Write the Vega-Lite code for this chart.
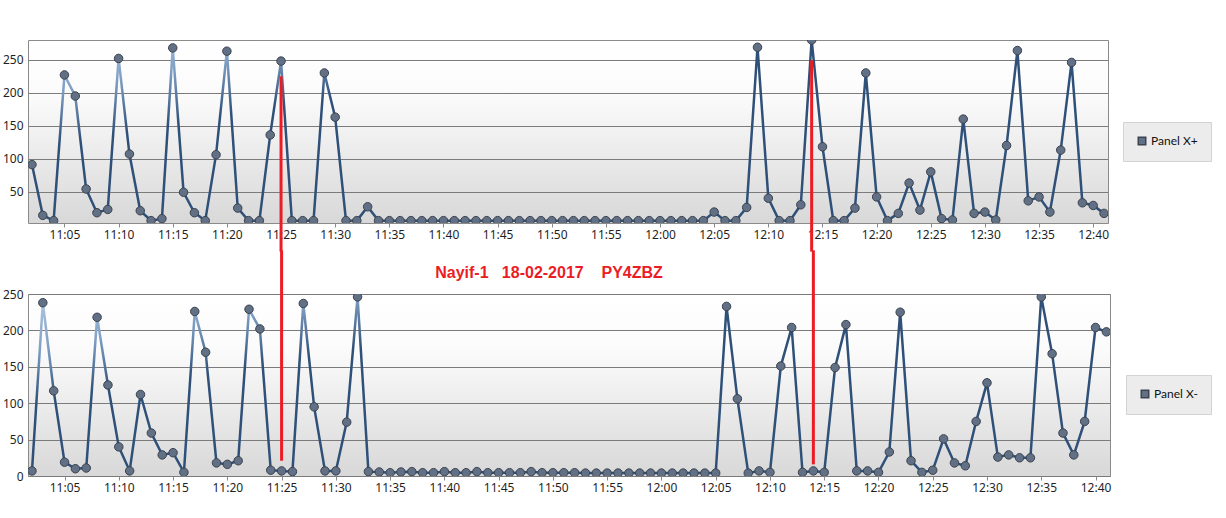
{
  "$schema": "https://vega.github.io/schema/vega-lite/v6.json",
  "background": "white",
  "padding": {"left": 1, "top": 39, "right": 0, "bottom": 0},
  "spacing": -6,
  "resolve": {"scale": {"color": "independent"}, "legend": {"color": "independent"}},
  "config": {
    "font": "Noto Sans",
    "view": {"stroke": "#8a8a8a", "strokeWidth": 1},
    "axis": {"labelFont": "Noto Sans", "labelFontSize": 12, "labelColor": "#1f1f1f", "domain": false, "gridColor": "#7b7b7b", "gridWidth": 1.2, "gridOpacity": 1},
    "axisX": {"grid": false, "ticks": true, "tickSize": 4, "tickColor": "#8a8a8a", "labelPadding": 2},
    "axisY": {"ticks": false, "labelPadding": 5, "grid": true}
  },
  "datasets": {
    "top": [
      {"t":"2017-02-18T11:02","v":91,"s":"Panel X+"},{"t":"2017-02-18T11:03","v":14,"s":"Panel X+"},{"t":"2017-02-18T11:04","v":6,"s":"Panel X+"},{"t":"2017-02-18T11:05","v":227,"s":"Panel X+"},{"t":"2017-02-18T11:06","v":195,"s":"Panel X+"},{"t":"2017-02-18T11:07","v":54,"s":"Panel X+"},{"t":"2017-02-18T11:08","v":18,"s":"Panel X+"},{"t":"2017-02-18T11:09","v":23,"s":"Panel X+"},{"t":"2017-02-18T11:10","v":252,"s":"Panel X+"},{"t":"2017-02-18T11:11","v":107,"s":"Panel X+"},
      {"t":"2017-02-18T11:12","v":21,"s":"Panel X+"},{"t":"2017-02-18T11:13","v":6,"s":"Panel X+"},{"t":"2017-02-18T11:14","v":9,"s":"Panel X+"},{"t":"2017-02-18T11:15","v":268,"s":"Panel X+"},{"t":"2017-02-18T11:16","v":49,"s":"Panel X+"},{"t":"2017-02-18T11:17","v":18,"s":"Panel X+"},{"t":"2017-02-18T11:18","v":6,"s":"Panel X+"},{"t":"2017-02-18T11:19","v":106,"s":"Panel X+"},{"t":"2017-02-18T11:20","v":263,"s":"Panel X+"},{"t":"2017-02-18T11:21","v":25,"s":"Panel X+"},
      {"t":"2017-02-18T11:22","v":6,"s":"Panel X+"},{"t":"2017-02-18T11:23","v":6,"s":"Panel X+"},{"t":"2017-02-18T11:24","v":136,"s":"Panel X+"},{"t":"2017-02-18T11:25","v":248,"s":"Panel X+"},{"t":"2017-02-18T11:26","v":6,"s":"Panel X+"},{"t":"2017-02-18T11:27","v":6,"s":"Panel X+"},{"t":"2017-02-18T11:28","v":6,"s":"Panel X+"},{"t":"2017-02-18T11:29","v":230,"s":"Panel X+"},{"t":"2017-02-18T11:30","v":163,"s":"Panel X+"},{"t":"2017-02-18T11:31","v":6,"s":"Panel X+"},
      {"t":"2017-02-18T11:32","v":6,"s":"Panel X+"},{"t":"2017-02-18T11:33","v":27,"s":"Panel X+"},{"t":"2017-02-18T11:34","v":6,"s":"Panel X+"},{"t":"2017-02-18T11:35","v":6,"s":"Panel X+"},{"t":"2017-02-18T11:36","v":6,"s":"Panel X+"},{"t":"2017-02-18T11:37","v":6,"s":"Panel X+"},{"t":"2017-02-18T11:38","v":6,"s":"Panel X+"},{"t":"2017-02-18T11:39","v":6,"s":"Panel X+"},{"t":"2017-02-18T11:40","v":6,"s":"Panel X+"},{"t":"2017-02-18T11:41","v":6,"s":"Panel X+"},
      {"t":"2017-02-18T11:42","v":6,"s":"Panel X+"},{"t":"2017-02-18T11:43","v":6,"s":"Panel X+"},{"t":"2017-02-18T11:44","v":6,"s":"Panel X+"},{"t":"2017-02-18T11:45","v":6,"s":"Panel X+"},{"t":"2017-02-18T11:46","v":6,"s":"Panel X+"},{"t":"2017-02-18T11:47","v":6,"s":"Panel X+"},{"t":"2017-02-18T11:48","v":6,"s":"Panel X+"},{"t":"2017-02-18T11:49","v":6,"s":"Panel X+"},{"t":"2017-02-18T11:50","v":6,"s":"Panel X+"},{"t":"2017-02-18T11:51","v":6,"s":"Panel X+"},
      {"t":"2017-02-18T11:52","v":6,"s":"Panel X+"},{"t":"2017-02-18T11:53","v":6,"s":"Panel X+"},{"t":"2017-02-18T11:54","v":6,"s":"Panel X+"},{"t":"2017-02-18T11:55","v":6,"s":"Panel X+"},{"t":"2017-02-18T11:56","v":6,"s":"Panel X+"},{"t":"2017-02-18T11:57","v":6,"s":"Panel X+"},{"t":"2017-02-18T11:58","v":6,"s":"Panel X+"},{"t":"2017-02-18T11:59","v":6,"s":"Panel X+"},{"t":"2017-02-18T12:00","v":6,"s":"Panel X+"},{"t":"2017-02-18T12:01","v":6,"s":"Panel X+"},
      {"t":"2017-02-18T12:02","v":6,"s":"Panel X+"},{"t":"2017-02-18T12:03","v":6,"s":"Panel X+"},{"t":"2017-02-18T12:04","v":6,"s":"Panel X+"},{"t":"2017-02-18T12:05","v":19,"s":"Panel X+"},{"t":"2017-02-18T12:06","v":6,"s":"Panel X+"},{"t":"2017-02-18T12:07","v":6,"s":"Panel X+"},{"t":"2017-02-18T12:08","v":26,"s":"Panel X+"},{"t":"2017-02-18T12:09","v":269,"s":"Panel X+"},{"t":"2017-02-18T12:10","v":40,"s":"Panel X+"},{"t":"2017-02-18T12:11","v":6,"s":"Panel X+"},
      {"t":"2017-02-18T12:12","v":6,"s":"Panel X+"},{"t":"2017-02-18T12:13","v":30,"s":"Panel X+"},{"t":"2017-02-18T12:14","v":280,"s":"Panel X+"},{"t":"2017-02-18T12:15","v":118,"s":"Panel X+"},{"t":"2017-02-18T12:16","v":6,"s":"Panel X+"},{"t":"2017-02-18T12:17","v":6,"s":"Panel X+"},{"t":"2017-02-18T12:18","v":25,"s":"Panel X+"},{"t":"2017-02-18T12:19","v":230,"s":"Panel X+"},{"t":"2017-02-18T12:20","v":42,"s":"Panel X+"},{"t":"2017-02-18T12:21","v":6,"s":"Panel X+"},
      {"t":"2017-02-18T12:22","v":17,"s":"Panel X+"},{"t":"2017-02-18T12:23","v":63,"s":"Panel X+"},{"t":"2017-02-18T12:24","v":22,"s":"Panel X+"},{"t":"2017-02-18T12:25","v":80,"s":"Panel X+"},{"t":"2017-02-18T12:26","v":9,"s":"Panel X+"},{"t":"2017-02-18T12:27","v":7,"s":"Panel X+"},{"t":"2017-02-18T12:28","v":160,"s":"Panel X+"},{"t":"2017-02-18T12:29","v":17,"s":"Panel X+"},{"t":"2017-02-18T12:30","v":19,"s":"Panel X+"},{"t":"2017-02-18T12:31","v":7,"s":"Panel X+"},
      {"t":"2017-02-18T12:32","v":120,"s":"Panel X+"},{"t":"2017-02-18T12:33","v":264,"s":"Panel X+"},{"t":"2017-02-18T12:34","v":36,"s":"Panel X+"},{"t":"2017-02-18T12:35","v":42,"s":"Panel X+"},{"t":"2017-02-18T12:36","v":19,"s":"Panel X+"},{"t":"2017-02-18T12:37","v":113,"s":"Panel X+"},{"t":"2017-02-18T12:38","v":246,"s":"Panel X+"},{"t":"2017-02-18T12:39","v":33,"s":"Panel X+"},{"t":"2017-02-18T12:40","v":29,"s":"Panel X+"},{"t":"2017-02-18T12:41","v":17,"s":"Panel X+"}
    ],
    "bottom": [
      {"t":"2017-02-18T11:02","v":7,"s":"Panel X-"},{"t":"2017-02-18T11:03","v":238,"s":"Panel X-"},{"t":"2017-02-18T11:04","v":117,"s":"Panel X-"},{"t":"2017-02-18T11:05","v":19,"s":"Panel X-"},{"t":"2017-02-18T11:06","v":10,"s":"Panel X-"},{"t":"2017-02-18T11:07","v":11,"s":"Panel X-"},{"t":"2017-02-18T11:08","v":218,"s":"Panel X-"},{"t":"2017-02-18T11:09","v":125,"s":"Panel X-"},{"t":"2017-02-18T11:10","v":40,"s":"Panel X-"},{"t":"2017-02-18T11:11","v":7,"s":"Panel X-"},
      {"t":"2017-02-18T11:12","v":112,"s":"Panel X-"},{"t":"2017-02-18T11:13","v":59,"s":"Panel X-"},{"t":"2017-02-18T11:14","v":29,"s":"Panel X-"},{"t":"2017-02-18T11:15","v":32,"s":"Panel X-"},{"t":"2017-02-18T11:16","v":5,"s":"Panel X-"},{"t":"2017-02-18T11:17","v":226,"s":"Panel X-"},{"t":"2017-02-18T11:18","v":170,"s":"Panel X-"},{"t":"2017-02-18T11:19","v":18,"s":"Panel X-"},{"t":"2017-02-18T11:20","v":16,"s":"Panel X-"},{"t":"2017-02-18T11:21","v":21,"s":"Panel X-"},
      {"t":"2017-02-18T11:22","v":229,"s":"Panel X-"},{"t":"2017-02-18T11:23","v":202,"s":"Panel X-"},{"t":"2017-02-18T11:24","v":8,"s":"Panel X-"},{"t":"2017-02-18T11:25","v":7,"s":"Panel X-"},{"t":"2017-02-18T11:26","v":6,"s":"Panel X-"},{"t":"2017-02-18T11:27","v":237,"s":"Panel X-"},{"t":"2017-02-18T11:28","v":95,"s":"Panel X-"},{"t":"2017-02-18T11:29","v":7,"s":"Panel X-"},{"t":"2017-02-18T11:30","v":7,"s":"Panel X-"},{"t":"2017-02-18T11:31","v":74,"s":"Panel X-"},
      {"t":"2017-02-18T11:32","v":246,"s":"Panel X-"},{"t":"2017-02-18T11:33","v":6,"s":"Panel X-"},{"t":"2017-02-18T11:34","v":5.5,"s":"Panel X-"},{"t":"2017-02-18T11:35","v":4.5,"s":"Panel X-"},{"t":"2017-02-18T11:36","v":5.5,"s":"Panel X-"},{"t":"2017-02-18T11:37","v":6,"s":"Panel X-"},{"t":"2017-02-18T11:38","v":4.5,"s":"Panel X-"},{"t":"2017-02-18T11:39","v":4.5,"s":"Panel X-"},{"t":"2017-02-18T11:40","v":6,"s":"Panel X-"},{"t":"2017-02-18T11:41","v":4.5,"s":"Panel X-"},
      {"t":"2017-02-18T11:42","v":4.5,"s":"Panel X-"},{"t":"2017-02-18T11:43","v":6,"s":"Panel X-"},{"t":"2017-02-18T11:44","v":4.5,"s":"Panel X-"},{"t":"2017-02-18T11:45","v":4.5,"s":"Panel X-"},{"t":"2017-02-18T11:46","v":4.5,"s":"Panel X-"},{"t":"2017-02-18T11:47","v":4.5,"s":"Panel X-"},{"t":"2017-02-18T11:48","v":6,"s":"Panel X-"},{"t":"2017-02-18T11:49","v":4.5,"s":"Panel X-"},{"t":"2017-02-18T11:50","v":4.5,"s":"Panel X-"},{"t":"2017-02-18T11:51","v":4.5,"s":"Panel X-"},
      {"t":"2017-02-18T11:52","v":4.5,"s":"Panel X-"},{"t":"2017-02-18T11:53","v":4,"s":"Panel X-"},{"t":"2017-02-18T11:54","v":4,"s":"Panel X-"},{"t":"2017-02-18T11:55","v":4,"s":"Panel X-"},{"t":"2017-02-18T11:56","v":4,"s":"Panel X-"},{"t":"2017-02-18T11:57","v":4,"s":"Panel X-"},{"t":"2017-02-18T11:58","v":4,"s":"Panel X-"},{"t":"2017-02-18T11:59","v":4,"s":"Panel X-"},{"t":"2017-02-18T12:00","v":4,"s":"Panel X-"},{"t":"2017-02-18T12:01","v":4,"s":"Panel X-"},
      {"t":"2017-02-18T12:02","v":4,"s":"Panel X-"},{"t":"2017-02-18T12:03","v":4,"s":"Panel X-"},{"t":"2017-02-18T12:04","v":4,"s":"Panel X-"},{"t":"2017-02-18T12:05","v":4,"s":"Panel X-"},{"t":"2017-02-18T12:06","v":233,"s":"Panel X-"},{"t":"2017-02-18T12:07","v":106,"s":"Panel X-"},{"t":"2017-02-18T12:08","v":4,"s":"Panel X-"},{"t":"2017-02-18T12:09","v":7,"s":"Panel X-"},{"t":"2017-02-18T12:10","v":5,"s":"Panel X-"},{"t":"2017-02-18T12:11","v":151,"s":"Panel X-"},
      {"t":"2017-02-18T12:12","v":204,"s":"Panel X-"},{"t":"2017-02-18T12:13","v":5,"s":"Panel X-"},{"t":"2017-02-18T12:14","v":7,"s":"Panel X-"},{"t":"2017-02-18T12:15","v":5,"s":"Panel X-"},{"t":"2017-02-18T12:16","v":149,"s":"Panel X-"},{"t":"2017-02-18T12:17","v":208,"s":"Panel X-"},{"t":"2017-02-18T12:18","v":7,"s":"Panel X-"},{"t":"2017-02-18T12:19","v":7,"s":"Panel X-"},{"t":"2017-02-18T12:20","v":5,"s":"Panel X-"},{"t":"2017-02-18T12:21","v":33,"s":"Panel X-"},
      {"t":"2017-02-18T12:22","v":225,"s":"Panel X-"},{"t":"2017-02-18T12:23","v":21,"s":"Panel X-"},{"t":"2017-02-18T12:24","v":5,"s":"Panel X-"},{"t":"2017-02-18T12:25","v":8,"s":"Panel X-"},{"t":"2017-02-18T12:26","v":51,"s":"Panel X-"},{"t":"2017-02-18T12:27","v":18,"s":"Panel X-"},{"t":"2017-02-18T12:28","v":14,"s":"Panel X-"},{"t":"2017-02-18T12:29","v":75,"s":"Panel X-"},{"t":"2017-02-18T12:30","v":128,"s":"Panel X-"},{"t":"2017-02-18T12:31","v":26,"s":"Panel X-"},
      {"t":"2017-02-18T12:32","v":29,"s":"Panel X-"},{"t":"2017-02-18T12:33","v":25,"s":"Panel X-"},{"t":"2017-02-18T12:34","v":25,"s":"Panel X-"},{"t":"2017-02-18T12:35","v":246,"s":"Panel X-"},{"t":"2017-02-18T12:36","v":168,"s":"Panel X-"},{"t":"2017-02-18T12:37","v":59,"s":"Panel X-"},{"t":"2017-02-18T12:38","v":29,"s":"Panel X-"},{"t":"2017-02-18T12:39","v":75,"s":"Panel X-"},{"t":"2017-02-18T12:40","v":204,"s":"Panel X-"},{"t":"2017-02-18T12:41","v":198,"s":"Panel X-"}
    ],
    "redTop": [
      {"t":"2017-02-18T11:25","y1":225,"y2":-41},
      {"t":"2017-02-18T12:14","y1":249,"y2":-41}
    ],
    "redBottom": [
      {"t":"2017-02-18T11:25","y1":21,"y2":310},
      {"t":"2017-02-18T12:14","y1":16,"y2":310}
    ]
  },
  "vconcat": [
    {
      "width": 1080,
      "height": 183,
      "view": {"fill": {"gradient": "linear", "x1": 0, "y1": 0, "x2": 0, "y2": 1, "stops": [{"offset": 0, "color": "#ffffff"}, {"offset": 0.3, "color": "#fbfbfb"}, {"offset": 1, "color": "#d8d8d8"}]}, "stroke": "#8a8a8a"},
      "encoding": {
        "x": {"field": "t", "type": "temporal", "scale": {"domain": [{"year": 2017, "month": 2, "date": 18, "hours": 11, "minutes": 1, "seconds": 38}, {"year": 2017, "month": 2, "date": 18, "hours": 12, "minutes": 41, "seconds": 22}]}, "axis": {"title": null, "format": "%H:%M", "tickCount": 20, "labelOverlap": false, "labelFlush": false}},
        "y": {"field": "v", "type": "quantitative", "scale": {"domain": [2.4, 280], "nice": false, "zero": false}, "axis": {"title": null, "values": [50, 100, 150, 200, 250]}}
      },
      "layer": [
        {
          "data": {"name": "top"},
          "mark": {"type": "line", "clip": true, "strokeWidth": 2.5, "color": {"gradient": "linear", "x1": 0, "y1": 0, "x2": 0.5, "y2": 0.5, "stops": [{"offset": 0, "color": "#b4cbe4"}, {"offset": 0.3, "color": "#7f9fc4"}, {"offset": 0.6, "color": "#2f5078"}, {"offset": 1, "color": "#2f5078"}]}}
        },
        {
          "data": {"name": "top"},
          "mark": {"type": "point", "clip": true, "filled": true, "size": 72, "opacity": 1, "strokeWidth": 1, "stroke": "#3b4350"},
          "encoding": {
            "color": {"field": "s", "type": "nominal", "scale": {"range": ["#617084"]}, "legend": {"orient": "none", "legendX": 1095, "legendY": 82, "title": null, "padding": 13, "labelOffset": 3, "fillColor": "#ececec", "strokeColor": "#d3d3d3", "symbolType": "square", "symbolSize": 56, "labelFont": "Lato", "labelFontSize": 12, "labelColor": "#111111", "encode": {"symbols": {"update": {"fill": {"value": "#4b6990"}, "stroke": {"value": "#2b3a50"}, "strokeWidth": {"value": 1}}}}}}
          }
        },
        {
          "data": {"name": "redTop"},
          "mark": {"type": "rule", "color": "#ec1c24", "strokeWidth": 3},
          "encoding": {"y": {"field": "y1", "type": "quantitative"}, "y2": {"field": "y2"}}
        }
      ]
    },
    {
      "width": 1082,
      "height": 182,
      "title": {"text": "Nayif-1\u00a0\u00a0\u00a018-02-2017\u00a0\u00a0\u00a0\u00a0PY4ZBZ", "color": "#ec1c24", "font": "Liberation Sans", "fontSize": 16, "fontWeight": "bold", "anchor": "middle", "dx": -20, "baseline": "alphabetic", "offset": -45},
      "view": {"fill": {"gradient": "linear", "x1": 0, "y1": 0, "x2": 0, "y2": 1, "stops": [{"offset": 0, "color": "#ffffff"}, {"offset": 0.3, "color": "#fbfbfb"}, {"offset": 1, "color": "#d8d8d8"}]}, "stroke": "#8a8a8a"},
      "encoding": {
        "x": {"field": "t", "type": "temporal", "scale": {"domain": [{"year": 2017, "month": 2, "date": 18, "hours": 11, "minutes": 1, "seconds": 38}, {"year": 2017, "month": 2, "date": 18, "hours": 12, "minutes": 41, "seconds": 20}]}, "axis": {"title": null, "format": "%H:%M", "tickCount": 20, "labelOverlap": false, "labelFlush": false}},
        "y": {"field": "v", "type": "quantitative", "scale": {"domain": [0, 250], "nice": false, "zero": false}, "axis": {"title": null, "values": [0, 50, 100, 150, 200, 250]}}
      },
      "layer": [
        {
          "data": {"name": "bottom"},
          "mark": {"type": "line", "clip": true, "strokeWidth": 2.5, "color": {"gradient": "linear", "x1": 0, "y1": 0, "x2": 0.5, "y2": 0.5, "stops": [{"offset": 0, "color": "#b4cbe4"}, {"offset": 0.3, "color": "#7f9fc4"}, {"offset": 0.6, "color": "#2f5078"}, {"offset": 1, "color": "#2f5078"}]}}
        },
        {
          "data": {"name": "bottom"},
          "mark": {"type": "point", "clip": true, "filled": true, "size": 72, "opacity": 1, "strokeWidth": 1, "stroke": "#3b4350"},
          "encoding": {
            "color": {"field": "s", "type": "nominal", "scale": {"range": ["#617084"]}, "legend": {"orient": "none", "legendX": 1098, "legendY": 81, "title": null, "padding": 13, "labelOffset": 3, "fillColor": "#ececec", "strokeColor": "#d3d3d3", "symbolType": "square", "symbolSize": 56, "labelFont": "Lato", "labelFontSize": 12, "labelColor": "#111111", "encode": {"symbols": {"update": {"fill": {"value": "#4b6990"}, "stroke": {"value": "#2b3a50"}, "strokeWidth": {"value": 1}}}}}}
          }
        },
        {
          "data": {"name": "redBottom"},
          "mark": {"type": "rule", "color": "#ec1c24", "strokeWidth": 3},
          "encoding": {"y": {"field": "y1", "type": "quantitative"}, "y2": {"field": "y2"}}
        }
      ]
    }
  ]
}
